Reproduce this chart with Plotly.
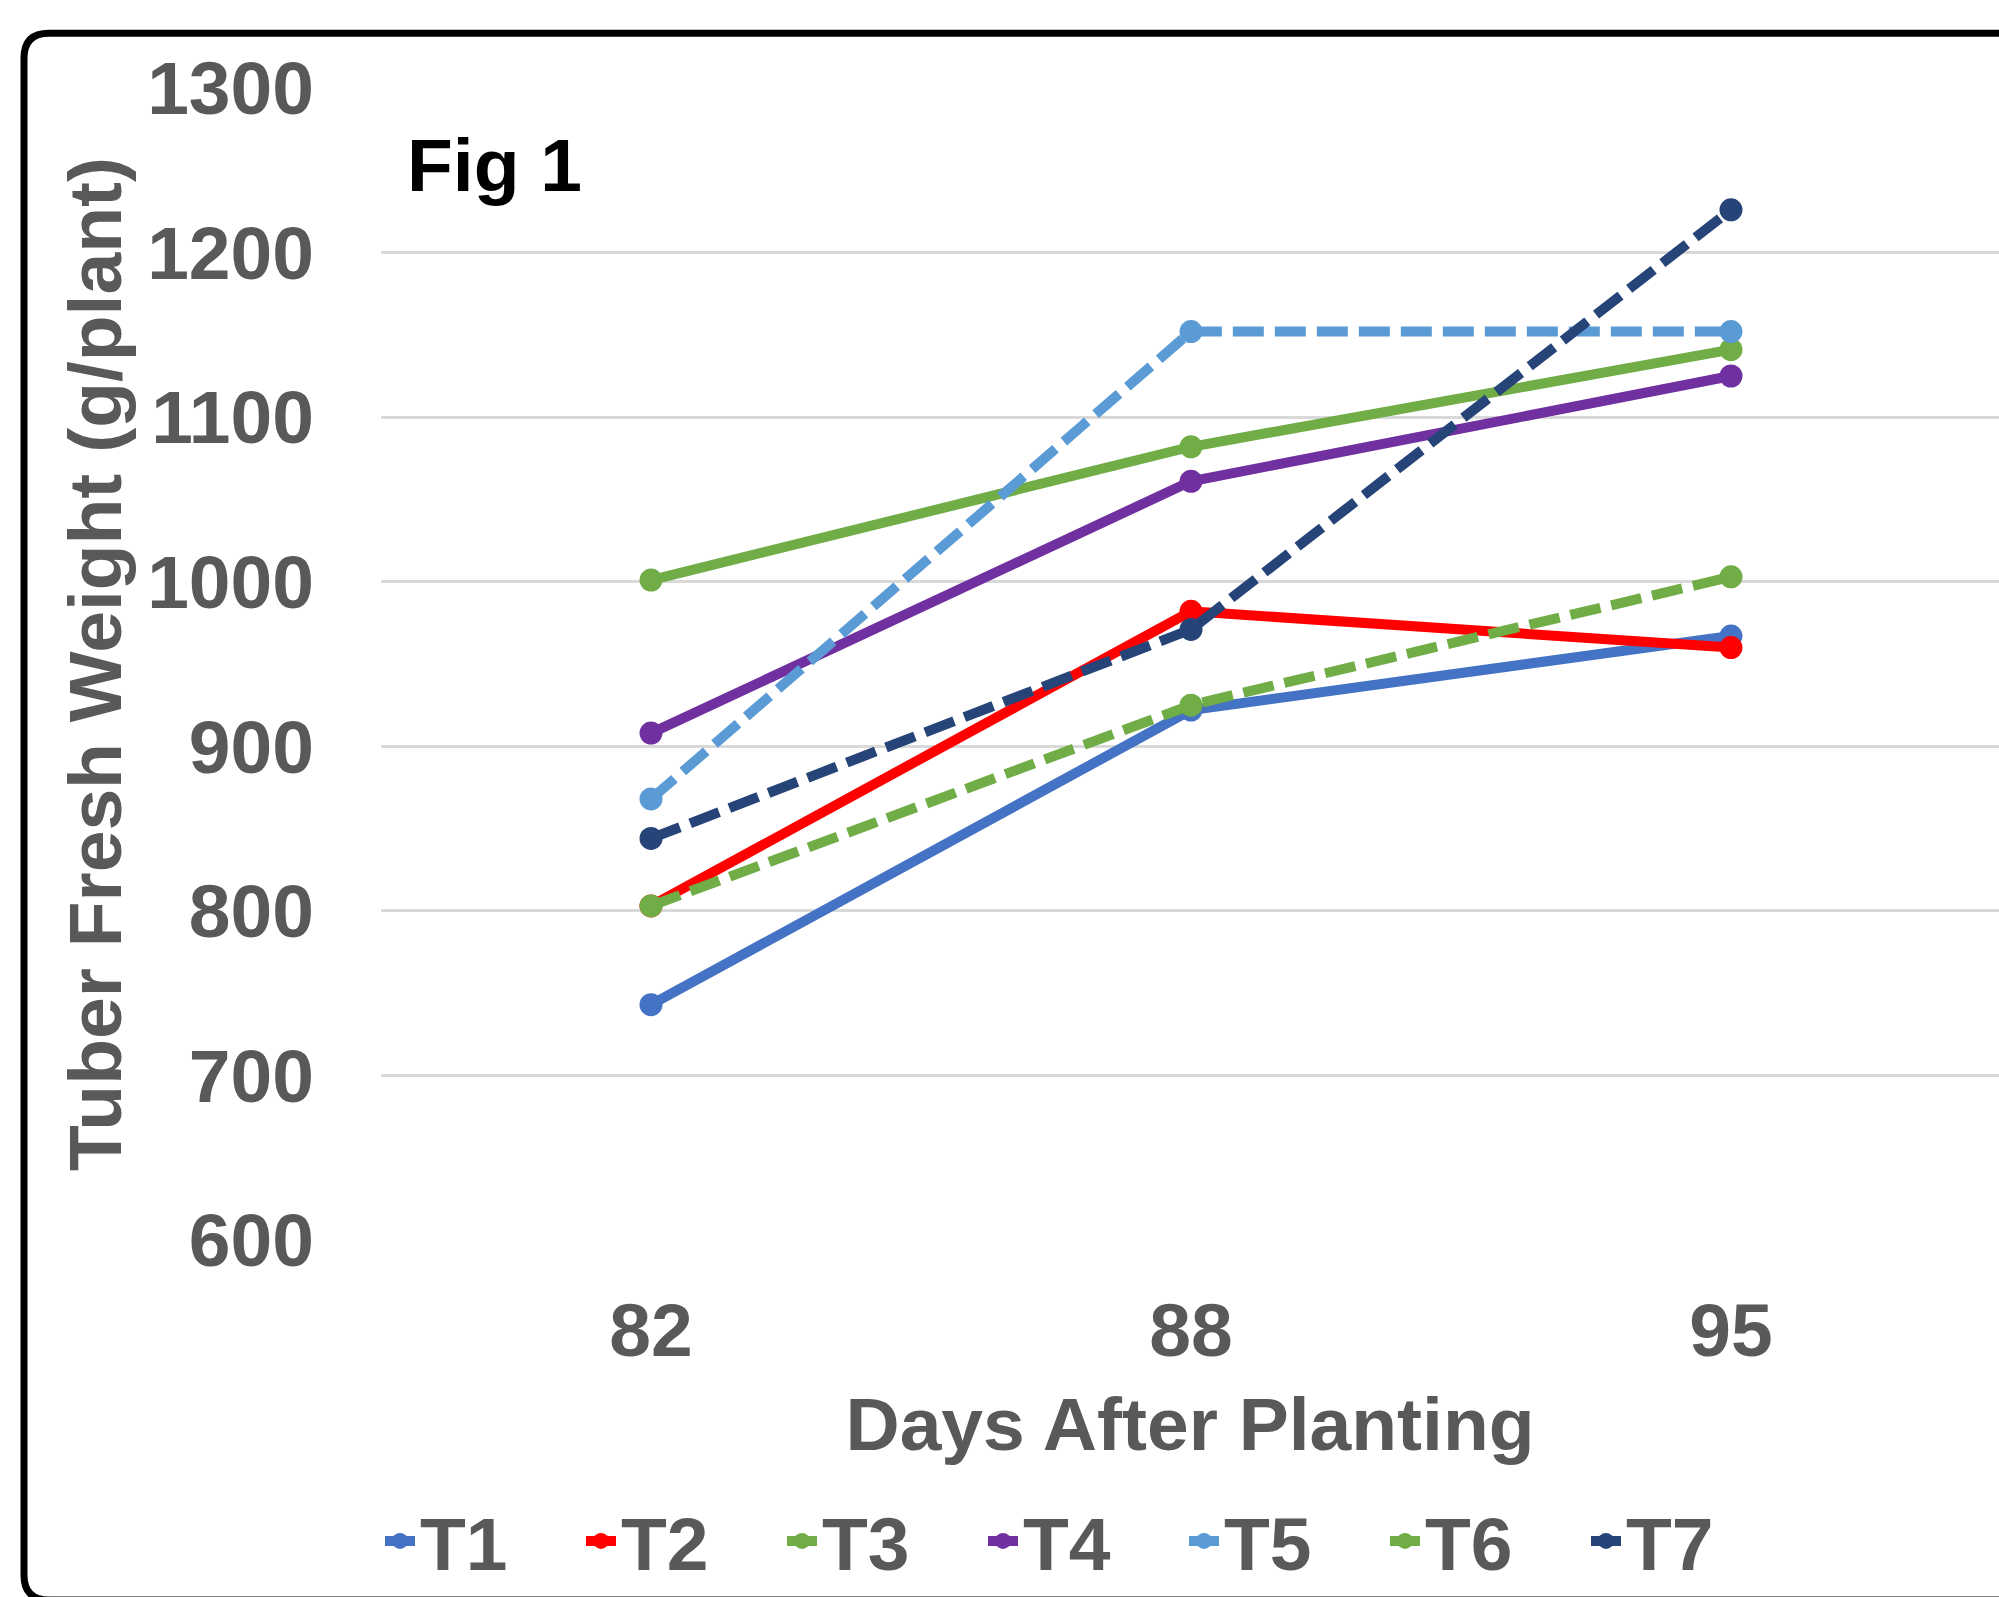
import plotly.graph_objects as go

# ---- data -------------------------------------------------------------
days = ["82", "88", "95"]
treatments = ["T1", "T2", "T3", "T4", "T5", "T6", "T7"]

t1 = [743, 922, 967]
t2 = [803, 982, 960]
t3 = [1001, 1082, 1141]
t4 = [908, 1061, 1125]
t5 = [868, 1152, 1152]
t6 = [803, 925, 1003]
t7 = [844, 971, 1226]

y_ticks = [600, 700, 800, 900, 1000, 1100, 1200, 1300]

# ---- styling ----------------------------------------------------------
series = [t1, t2, t3, t4, t5, t6, t7]
colors = ["#4472C4", "#FF0000", "#70AD47", "#7030A0", "#5B9BD5", "#70AD47", "#264478"]
dashes = ["solid", "solid", "solid", "solid", "31px,11px", "31px,11px", "31px,11px"]

W, H = 1999, 1597
PL, PR, PT, PB = 381, 1999, 88, 1243  # plot area in pixels
FAMILY = "Liberation Sans, Arial, sans-serif"
GREY = "#595959"
FS = 75


def bold(color=GREY, size=FS):
    return dict(family=FAMILY, size=size, color=color, weight="bold")


def px_x(px):
    return (px - PL) / (PR - PL)


def px_y(py):
    return (PB - py) / (PB - PT)


fig = go.Figure()
for name, vals, col, dash in zip(treatments, series, colors, dashes):
    fig.add_trace(go.Scatter(
        x=days, y=vals, name=name, mode="lines+markers",
        line=dict(color=col, width=10, dash=dash),
        marker=dict(color=col, size=23, symbol="circle"),
    ))

# rounded chart-area frame
x0, y0, r = 24, 33, 25
xb, yb = 2045, 1604
frame = (
    f"M {px_x(xb)},{px_y(yb)} L {px_x(x0 + r)},{px_y(yb)} "
    f"Q {px_x(x0)},{px_y(yb)} {px_x(x0)},{px_y(yb - r)} "
    f"L {px_x(x0)},{px_y(y0 + r)} "
    f"Q {px_x(x0)},{px_y(y0)} {px_x(x0 + r)},{px_y(y0)} "
    f"L {px_x(xb)},{px_y(y0)}"
)
fig.add_shape(type="path", path=frame, xref="paper", yref="paper",
              line=dict(color="black", width=7), layer="above")

fig.add_annotation(text="Fig 1", xref="paper", yref="paper",
                   x=px_x(405), y=px_y(165), xanchor="left", yanchor="middle",
                   showarrow=False, font=bold("black"))

cat_w = 540.0
fig.update_layout(
    width=W, height=H,
    margin=dict(l=PL, r=W - PR, t=PT, b=H - PB, pad=0),
    paper_bgcolor="white", plot_bgcolor="white",
    font=bold(),
    showlegend=True,
    legend=dict(
        orientation="h", x=px_x(380), y=px_y(1545), xanchor="left", yanchor="middle",
        font=bold(),
        entrywidth=156, entrywidthmode="pixels",
        bgcolor="rgba(0,0,0,0)", borderwidth=0,
    ),
    xaxis=dict(
        type="category", range=[-0.5, -0.5 + (PR - PL) / cat_w],
        showgrid=False, zeroline=False, showline=False,
        ticks="outside", ticklen=25, tickcolor="rgba(0,0,0,0)",
        tickfont=bold(),
        title=dict(text="Days After Planting", standoff=26, font=bold()),
    ),
    yaxis=dict(
        range=[600, 1300], tickvals=y_ticks,
        showgrid=True, gridcolor="#D9D9D9", gridwidth=2.5,
        zeroline=False, showline=False,
        ticks="outside", ticklen=51, tickcolor="rgba(0,0,0,0)",
        tickfont=bold(),
        title=dict(text="Tuber Fresh Weight (g/plant)", standoff=0, font=bold()),
    ),
)

fig.write_html("out.html")
